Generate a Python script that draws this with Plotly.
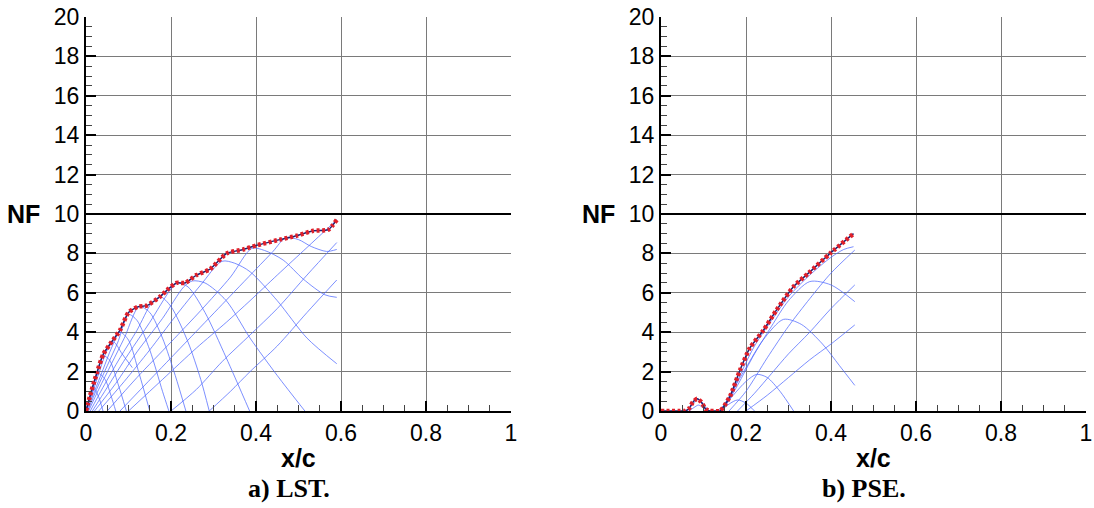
import plotly.graph_objects as go

# ---------------- data ----------------
# a) LST envelope
lst_env_x = [0, 0.009, 0.025, 0.041, 0.06, 0.08, 0.1, 0.123, 0.143, 0.174, 0.194, 0.213,
             0.233, 0.26, 0.292, 0.331, 0.37, 0.40, 0.456, 0.496, 0.535, 0.57, 0.59]
lst_env_nf = [0, 0.73, 1.9, 2.9, 3.5, 4.1, 5.0, 5.3, 5.35, 5.8, 6.2, 6.5,
              6.5, 6.9, 7.2, 8.0, 8.2, 8.4, 8.7, 8.9, 9.15, 9.2, 9.7]

# a) LST individual N-factor curves
lst_c1_x = [0, 0.006, 0.012, 0.02, 0.03, 0.04]
lst_c1_nf = [0, 0.5, 0.9, 1.1, 0.7, 0]
lst_c2_x = [0, 0.01, 0.02, 0.03, 0.045, 0.06, 0.07]
lst_c2_nf = [0, 0.7, 1.5, 1.9, 1.6, 0.7, 0]
lst_c3_x = [0, 0.012, 0.025, 0.04, 0.055, 0.075, 0.095]
lst_c3_nf = [0, 0.8, 1.8, 2.8, 2.6, 1.4, 0]
lst_c4_x = [0, 0.015, 0.03, 0.05, 0.065, 0.085, 0.109]
lst_c4_nf = [0, 0.9, 1.9, 3.1, 3.5, 2.9, 2.2]
lst_c5_x = [0.002, 0.02, 0.04, 0.06, 0.08, 0.1, 0.125, 0.15]
lst_c5_nf = [0, 1.0, 2.1, 3.2, 4.0, 3.6, 1.9, 0]
lst_c6_x = [0.004, 0.025, 0.05, 0.075, 0.1, 0.12, 0.15, 0.18, 0.195]
lst_c6_nf = [0, 1.1, 2.3, 3.5, 4.9, 4.6, 3.1, 1.0, 0]
lst_c7_x = [0.006, 0.03, 0.06, 0.09, 0.125, 0.15, 0.18, 0.21, 0.235]
lst_c7_nf = [0, 1.1, 2.4, 3.7, 5.3, 5.0, 3.7, 1.8, 0]
lst_c8_x = [0.01, 0.04, 0.08, 0.12, 0.155, 0.175, 0.2, 0.24, 0.27, 0.29]
lst_c8_nf = [0, 1.2, 2.7, 4.1, 5.5, 5.8, 5.3, 3.5, 1.6, 0]
lst_c9_x = [0.015, 0.05, 0.1, 0.15, 0.2, 0.215, 0.24, 0.28, 0.33, 0.385]
lst_c9_nf = [0, 1.2, 2.9, 4.5, 6.2, 6.5, 6.3, 5.0, 2.7, 0]
lst_c10_x = [0.02, 0.07, 0.12, 0.18, 0.23, 0.25, 0.28, 0.33, 0.386, 0.45, 0.515]
lst_c10_nf = [0, 1.4, 3.0, 4.7, 6.3, 6.6, 6.5, 5.6, 3.7, 1.8, 0]
lst_c11_x = [0.03, 0.09, 0.15, 0.21, 0.27, 0.32, 0.35, 0.386, 0.45, 0.52, 0.59]
lst_c11_nf = [0, 1.5, 3.1, 4.8, 6.4, 7.6, 7.5, 7.07, 5.6, 3.7, 2.4]
lst_c12_x = [0.05, 0.12, 0.2, 0.27, 0.34, 0.39, 0.42, 0.464, 0.511, 0.562, 0.59]
lst_c12_nf = [0, 1.7, 3.5, 5.1, 6.8, 8.25, 8.15, 7.66, 6.7, 5.9, 5.77]
lst_c13_x = [0.08, 0.16, 0.24, 0.32, 0.4, 0.44, 0.47, 0.5, 0.53, 0.566, 0.59]
lst_c13_nf = [0, 1.8, 3.6, 5.4, 7.2, 8.1, 8.8, 8.7, 8.35, 8.1, 8.2]
lst_c14_x = [0.1, 0.18, 0.26, 0.33, 0.386, 0.45, 0.52, 0.59]
lst_c14_nf = [0, 1.6, 3.2, 4.5, 5.6, 6.9, 8.3, 9.7]
lst_c15_x = [0.2, 0.26, 0.32, 0.386, 0.45, 0.52, 0.59]
lst_c15_nf = [0, 1.1, 2.5, 3.86, 5.2, 6.9, 8.55]
lst_c16_x = [0.29, 0.34, 0.386, 0.45, 0.52, 0.59]
lst_c16_nf = [0, 1.0, 2.0, 3.3, 5.0, 6.65]

# b) PSE envelope
pse_env_x = [0, 0.02, 0.04, 0.055, 0.065, 0.075, 0.085, 0.095, 0.105, 0.115, 0.125, 0.139,
             0.162, 0.186, 0.209, 0.241, 0.272, 0.311, 0.347, 0.398, 0.453]
pse_env_nf = [0, 0, 0, 0, 0.1, 0.45, 0.62, 0.45, 0.1, 0, 0, 0,
              0.73, 2.08, 3.2, 4.1, 5.13, 6.3, 7.0, 8.0, 9.0]

# b) PSE individual N-factor curves
pse_c1_x = [0.135, 0.16, 0.19, 0.22, 0.26, 0.3, 0.35, 0.4, 0.43, 0.453]
pse_c1_nf = [0, 0.6, 2.0, 3.3, 4.6, 5.8, 6.9, 7.8, 8.2, 8.34]
pse_c2_x = [0.16, 0.2, 0.25, 0.3, 0.35, 0.4, 0.456]
pse_c2_nf = [0, 1.0, 2.7, 4.3, 5.7, 7.0, 8.17]
pse_c3_x = [0.145, 0.18, 0.22, 0.26, 0.3, 0.35, 0.4, 0.456]
pse_c3_nf = [0, 1.3, 2.9, 4.3, 5.6, 6.57, 6.4, 5.55]
pse_c4_x = [0.18, 0.22, 0.26, 0.3, 0.35, 0.4, 0.456]
pse_c4_nf = [0, 0.9, 1.9, 2.9, 4.0, 5.2, 6.4]
pse_c5_x = [0.14, 0.17, 0.2, 0.24, 0.288, 0.33, 0.38, 0.42, 0.456]
pse_c5_nf = [0, 1.1, 2.2, 3.6, 4.65, 4.4, 3.4, 2.3, 1.3]
pse_c6_x = [0.2, 0.25, 0.3, 0.35, 0.4, 0.456]
pse_c6_nf = [0, 0.8, 1.7, 2.6, 3.4, 4.37]
pse_c7_x = [0.14, 0.17, 0.2, 0.225, 0.25, 0.28, 0.312]
pse_c7_nf = [0, 0.8, 1.5, 1.86, 1.7, 1.0, 0]
pse_c8_x = [0.14, 0.16, 0.18, 0.2, 0.22]
pse_c8_nf = [0, 0.35, 0.56, 0.4, 0]
pse_c9_x = [0.062, 0.075, 0.088, 0.1, 0.112]
pse_c9_nf = [0, 0.35, 0.6, 0.35, 0]
pse_c10_x = [0.066, 0.078, 0.088, 0.098, 0.108]
pse_c10_nf = [0, 0.18, 0.3, 0.18, 0]

nf_threshold = 10
x_ticks = [0, 0.2, 0.4, 0.6, 0.8, 1]
x_tick_labels = ["0", "0.2", "0.4", "0.6", "0.8", "1"]
y_ticks = [0, 2, 4, 6, 8, 10, 12, 14, 16, 18, 20]
y_tick_labels = [str(v) for v in y_ticks]
panel_titles = ["a) LST.", "b) PSE."]

lst_curves = [(lst_c1_x, lst_c1_nf), (lst_c2_x, lst_c2_nf), (lst_c3_x, lst_c3_nf),
              (lst_c4_x, lst_c4_nf), (lst_c5_x, lst_c5_nf), (lst_c6_x, lst_c6_nf),
              (lst_c7_x, lst_c7_nf), (lst_c8_x, lst_c8_nf), (lst_c9_x, lst_c9_nf),
              (lst_c10_x, lst_c10_nf), (lst_c11_x, lst_c11_nf), (lst_c12_x, lst_c12_nf),
              (lst_c13_x, lst_c13_nf), (lst_c14_x, lst_c14_nf), (lst_c15_x, lst_c15_nf),
              (lst_c16_x, lst_c16_nf)]
pse_curves = [(pse_c1_x, pse_c1_nf), (pse_c2_x, pse_c2_nf), (pse_c3_x, pse_c3_nf),
              (pse_c4_x, pse_c4_nf), (pse_c5_x, pse_c5_nf), (pse_c6_x, pse_c6_nf),
              (pse_c7_x, pse_c7_nf), (pse_c8_x, pse_c8_nf), (pse_c9_x, pse_c9_nf),
              (pse_c10_x, pse_c10_nf)]

# ---------------- figure ----------------
W, H = 1094, 508
BLUE = "rgba(80,105,255,0.75)"
fig = go.Figure()

def add_panel(curves, env_x, env_nf, xa, ya):
    for cx, cy in curves:
        fig.add_trace(go.Scatter(x=cx, y=cy, mode="lines", xaxis=xa, yaxis=ya,
                                 line=dict(color=BLUE, width=1, shape="spline", smoothing=0.8),
                                 showlegend=False, hoverinfo="skip"))
    fig.add_trace(go.Scatter(x=[0, 1], y=[nf_threshold, nf_threshold], mode="lines",
                             xaxis=xa, yaxis=ya, line=dict(color="black", width=2),
                             showlegend=False, hoverinfo="skip", cliponaxis=False))
    fig.add_trace(go.Scatter(x=env_x, y=env_nf, mode="lines", xaxis=xa, yaxis=ya,
                             line=dict(color="#22206e", width=1.5, shape="spline", smoothing=0.6),
                             showlegend=False, hoverinfo="skip", cliponaxis=False))
    fig.add_trace(go.Scatter(x=env_x, y=env_nf, mode="lines", xaxis=xa, yaxis=ya,
                             line=dict(color="#e0202a", width=4.5, dash="3px,2.5px",
                                       shape="spline", smoothing=0.6),
                             showlegend=False, hoverinfo="skip", cliponaxis=False))

add_panel(lst_curves, lst_env_x, lst_env_nf, "x", "y")
add_panel(pse_curves, pse_env_x, pse_env_nf, "x2", "y2")

tickfont = dict(family="Liberation Sans, Arial, sans-serif", size=23, color="black")
common_x = dict(range=[0, 1], tickvals=x_ticks, ticktext=x_tick_labels, ticks="inside",
                ticklen=10, tickwidth=2, tickcolor="black", showline=True, linecolor="black",
                linewidth=2, showgrid=True, gridcolor="#7a7a7a", gridwidth=1, zeroline=False,
                tickfont=tickfont, mirror=False, automargin=False,
                minor=dict(dtick=0.05, ticks="inside", ticklen=6, tickwidth=1,
                           tickcolor="#444", showgrid=False))
common_y = dict(range=[0, 20], tickvals=y_ticks, ticktext=y_tick_labels, ticks="inside",
                ticklen=10, tickwidth=2, tickcolor="black", showline=True, linecolor="black",
                linewidth=2, showgrid=True, gridcolor="#7a7a7a", gridwidth=1, zeroline=False,
                tickfont=tickfont, mirror=False, automargin=False,
                minor=dict(dtick=0.5, ticks="inside", ticklen=6, tickwidth=1,
                           tickcolor="#444", showgrid=False))

y_dom = [(H - 411) / H, (H - 17) / H]
fig.update_layout(
    width=W, height=H, margin=dict(l=0, r=0, t=0, b=0, pad=0, autoexpand=False),
    paper_bgcolor="white", plot_bgcolor="white",
    xaxis=dict(domain=[86 / W, 511 / W], anchor="y", **common_x),
    yaxis=dict(domain=y_dom, anchor="x", **common_y),
    xaxis2=dict(domain=[661 / W, 1086 / W], anchor="y2", **common_x),
    yaxis2=dict(domain=y_dom, anchor="x2", **common_y),
)

lab_font = dict(family="Liberation Sans, Arial, sans-serif", size=25, color="black")
title_font = dict(family="Liberation Serif, Times New Roman, serif", size=26, color="black")
for xa, ya, title in [("x", "y", panel_titles[0]), ("x2", "y2", panel_titles[1])]:
    fig.add_annotation(text="<b>NF</b>", xref=f"{xa} domain", yref=ya, x=0, y=nf_threshold,
                       xanchor="right", yanchor="middle", xshift=-44, showarrow=False,
                       font=lab_font)
    fig.add_annotation(text="<b>x/c</b>", xref=f"{xa} domain", yref="paper", x=0.5,
                       y=(H - 458) / H, xanchor="center", yanchor="middle",
                       showarrow=False, font=lab_font)
    fig.add_annotation(text=f"<b>{title}</b>", xref=f"{xa} domain", yref="paper", x=0.477,
                       y=(H - 488) / H, xanchor="center", yanchor="middle",
                       showarrow=False, font=title_font)

fig.write_html("out.html")
